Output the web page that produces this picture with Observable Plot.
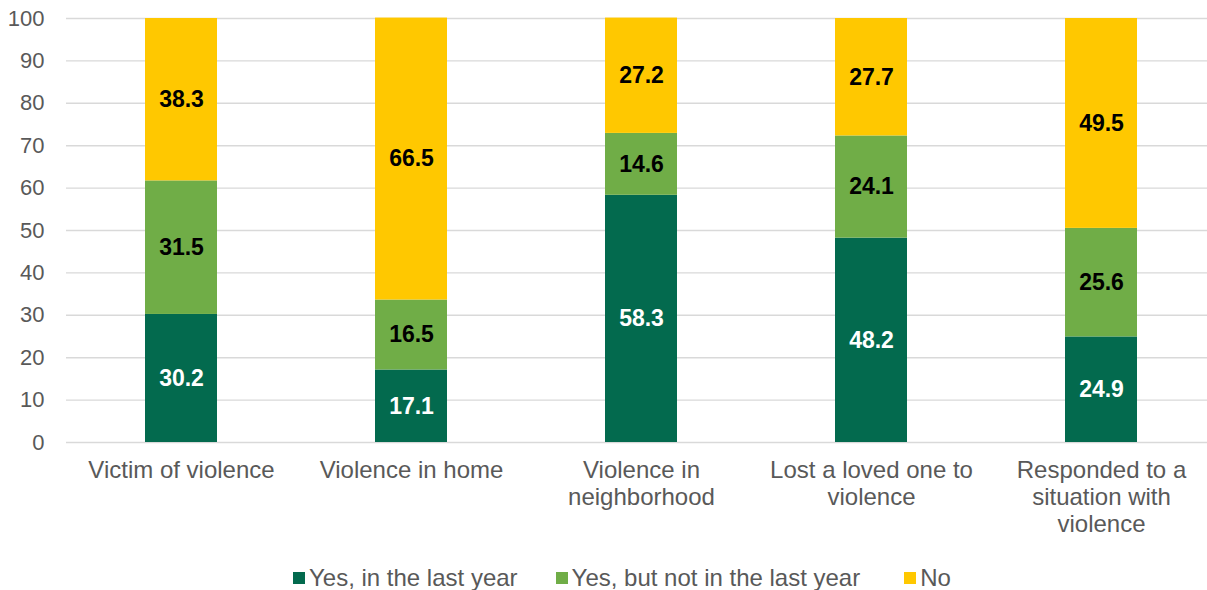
<!DOCTYPE html>
<html>
<head>
<meta charset="utf-8">
<script src="https://cdn.jsdelivr.net/npm/d3@7"></script>
<script src="https://cdn.jsdelivr.net/npm/@observablehq/plot@0.6"></script>
<style>
  body { margin: 0; background: #fff; font-family: Arial, "Liberation Sans", sans-serif; }
  #chart { width: 1207px; }
  .legend { display: flex; align-items: center; height: 36px; margin-left: 293px; font-size: 24px; color: #595959; }
  .legend .item { display: flex; align-items: center; margin-right: 38px; }
  .legend .item:nth-child(2) { margin-right: 44px; }
  .legend .sw { width: 12px; height: 12px; margin-right: 4px; }
</style>
</head>
<body>
<div id="chart"></div>
<script>
const categories = [
  "Victim of violence",
  "Violence in home",
  "Violence in\nneighborhood",
  "Lost a loved one to\nviolence",
  "Responded to a\nsituation with\nviolence"
];
const series = ["Yes, in the last year", "Yes, but not in the last year", "No"];
const colors = ["#036A4E", "#70AD47", "#FFC800"];
const labelColors = ["#ffffff", "#000000", "#000000"];
const yesLastYear = [30.2, 17.1, 58.3, 48.2, 24.9];
const yesNotLastYear = [31.5, 16.5, 14.6, 24.1, 25.6];
const no = [38.3, 66.5, 27.2, 27.7, 49.5];
const yTicks = [0, 10, 20, 30, 40, 50, 60, 70, 80, 90, 100];

const valuesBySeries = [yesLastYear, yesNotLastYear, no];
const rows = [];
categories.forEach((c, i) => {
  let base = 0;
  valuesBySeries.forEach((vals, s) => {
    const v = vals[i];
    rows.push({category: c, series: series[s], value: v, y1: base, y2: base + v, mid: base + v / 2, labelColor: labelColors[s]});
    base += v;
  });
});

const W = 1207, H = 560;
const chart = Plot.plot({
  width: W,
  height: H,
  marginLeft: 66,
  marginRight: 0,
  marginTop: 18,
  marginBottom: H - 442,
  style: {fontFamily: "Arial, 'Liberation Sans', sans-serif", background: "#fff", overflow: "visible"},
  x: {domain: categories, range: [66, 1216], paddingInner: 0.687, paddingOuter: 0.3435, label: null},
  y: {domain: [0, 100], label: null},
  color: {domain: series, range: colors},
  marks: [
    Plot.ruleY(yTicks, {stroke: "#d9d9d9", strokeWidth: 1.4}),
    Plot.barY(rows, {x: "category", y1: "y1", y2: "y2", fill: "series"}),
    Plot.text(rows, {x: "category", y: "mid", text: d => d.value.toFixed(1), fill: "labelColor", fontSize: 23, fontWeight: "bold"}),
    Plot.axisY({ticks: yTicks, tickSize: 0, tickPadding: 22, fontSize: 22, color: "#595959", label: null}),
    Plot.axisX({tickSize: 0, tickPadding: 16, fontSize: 24, color: "#595959", lineAnchor: "top", lineHeight: 1.125, label: null})
  ]
});
document.getElementById("chart").appendChild(chart);

const legend = document.createElement("div");
legend.className = "legend";
series.forEach((s, i) => {
  const item = document.createElement("div");
  item.className = "item";
  const sw = document.createElement("span");
  sw.className = "sw";
  sw.style.background = colors[i];
  const t = document.createElement("span");
  t.textContent = s;
  item.appendChild(sw);
  item.appendChild(t);
  legend.appendChild(item);
});
document.getElementById("chart").appendChild(legend);
</script>
</body>
</html>
